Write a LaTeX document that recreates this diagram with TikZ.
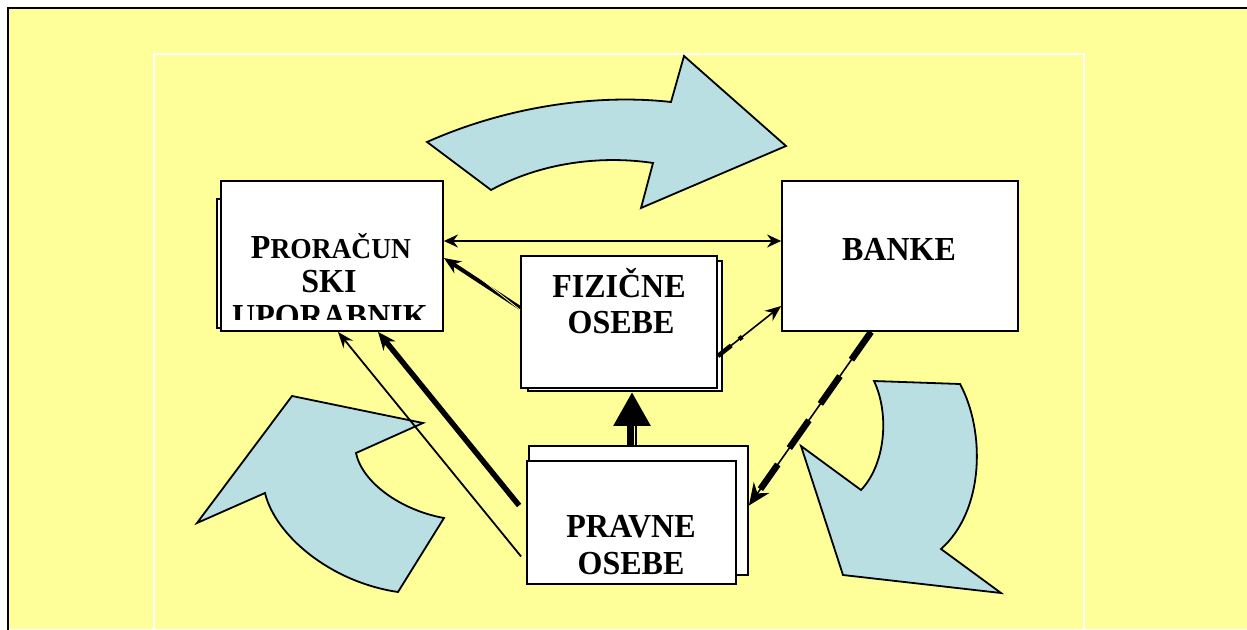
\documentclass[tikz,border=0pt]{standalone}
\usepackage{fontspec}
\setmainfont{Liberation Serif}
\usetikzlibrary{arrows.meta,calc}
\definecolor{bgyellow}{RGB}{255,255,153}
\definecolor{arrowblue}{RGB}{185,223,227}
\begin{document}
\begin{tikzpicture}[x=1pt,y=-1pt,
  box/.style={draw=black,fill=white,line width=1.8pt,inner sep=0pt,rectangle},
  lbl/.style={font=\fontsize{32}{32}\selectfont\bfseries,inner sep=0pt,anchor=base,yscale=1.05},
  blockarrow/.style={draw=black,fill=arrowblue,line width=1.8pt,line join=miter},
  conn/.style={line width=1.8pt}]
\useasboundingbox (0,0) rectangle (1247,629);
% background and frame
\fill[white] (0,0) rectangle (1247,629);
\fill[bgyellow] (8,8) rectangle (1247,629);
\draw[line width=2.8pt] (8,640) -- (8,8) -- (1250,8);
\draw[white,line width=1.8pt] (154,640) -- (154,54) -- (1084,54) -- (1084,640);

% curved block arrows
\draw[blockarrow] (427,142) .. controls (510,105) and (600,94) .. (671,102)
  -- (684,56) -- (786,146) -- (641,208) -- (653,163)
  .. controls (600,155) and (540,163) .. (491,190) -- cycle;
\draw[blockarrow] (292,396) -- (423,423) -- (356,453)
  .. controls (362,482) and (400,510) .. (444,518) -- (398,592)
  .. controls (330,582) and (275,535) .. (265,493) -- (197,523) -- cycle;
\draw[blockarrow] (874,381) -- (960,384)
  .. controls (985,430) and (985,510) .. (941,549) -- (1001,593) -- (843,575)
  -- (801,446) -- (861,490) .. controls (885,465) and (890,415) .. (874,381) -- cycle;

% boxes
\node[box,minimum width=222pt,minimum height=129pt] (proback) at (328,263.5) {};
\node[box,minimum width=222pt,minimum height=150pt] (pro) at (332,256) {};
\node[box,minimum width=236pt,minimum height=150pt] (ban) at (900,256) {};
\node[box,minimum width=194pt,minimum height=130pt] (fizback) at (625,326) {};
\node[box,minimum width=196pt,minimum height=132pt] (fiz) at (619,322) {};
\node[box,minimum width=219pt,minimum height=129pt] (pravback) at (638.5,510.5) {};
\node[box,minimum width=209pt,minimum height=123pt] (prav) at (631.5,522.5) {};

% labels
\node[lbl] (t1) at (331,258) {P{\fontsize{27.5}{27.5}\selectfont RORAČUN}};
\node[lbl] (t2) at (329,292) {SKI};
\begin{scope}
  \clip (221,181) rectangle (443,319);
  \node[lbl] (t3) at (330,327) {UPORABNIK};
\end{scope}
\node[lbl] (t4) at (899,260) {BANKE};
\node[lbl] (t5) at (619,297) {FIZIČNE};
\node[lbl] (t6) at (621,333) {OSEBE};
\node[lbl] (t7) at (631,537) {PRAVNE};
\node[lbl] (t8) at (631,574) {OSEBE};

% connectors
\draw[conn,{Stealth[length=14pt,width=13pt]}-{Stealth[length=14pt,width=13pt]}]
  ([yshift=15pt]pro.east) -- ([yshift=15pt]ban.west);
\draw[line width=4pt,-{Stealth[length=17pt,width=14pt]}]
  ([yshift=14pt]fiz.west) -- ([yshift=-2pt]pro.east);
\draw[bgyellow,line width=0.8pt]
  ([yshift=12pt]fiz.west) -- ([yshift=-6pt,xshift=16pt]pro.east);
\draw[line width=10pt,-{Triangle[length=34pt,width=35pt]}]
  ([xshift=-6.5pt]pravback.north) -- ([xshift=7pt]fizback.south);
\draw[bgyellow,line width=1pt]
  ([xshift=-4pt]pravback.north) -- ([xshift=-4pt,yshift=19pt]pravback.north);
\draw[line width=5.5pt,-{Stealth[length=18pt,width=15pt]}]
  ([xshift=-7pt,yshift=17pt]prav.west) -- ([xshift=46pt]pro.south);
\draw[conn,-{Stealth[length=16pt,width=12pt]}]
  ([xshift=-5pt,yshift=-34pt]prav.west) -- ([xshift=6pt]pro.south);
% dash-dot arrow fizicne -> banke
\draw[line width=1.6pt,-{Stealth[length=16pt,width=13pt]}]
  ([yshift=-34pt]fiz.east) -- ([yshift=-50pt]ban.west);
\draw[line width=4.5pt,dash pattern=on 17pt off 10pt on 4pt off 100pt,shorten >=15pt]
  ([yshift=-34pt]fiz.east) -- ([yshift=-50pt]ban.west);
% dashed arrow banke -> pravne
\draw[line width=1.6pt,-{Stealth[length=22pt,width=19pt]}]
  ([xshift=-29pt]ban.south) -- ([yshift=5pt]pravback.east);
\draw[line width=6.5pt,dash pattern=on 34pt off 20pt,shorten >=20pt]
  ([xshift=-29pt]ban.south) -- ([yshift=5pt]pravback.east);
\end{tikzpicture}
\end{document}
